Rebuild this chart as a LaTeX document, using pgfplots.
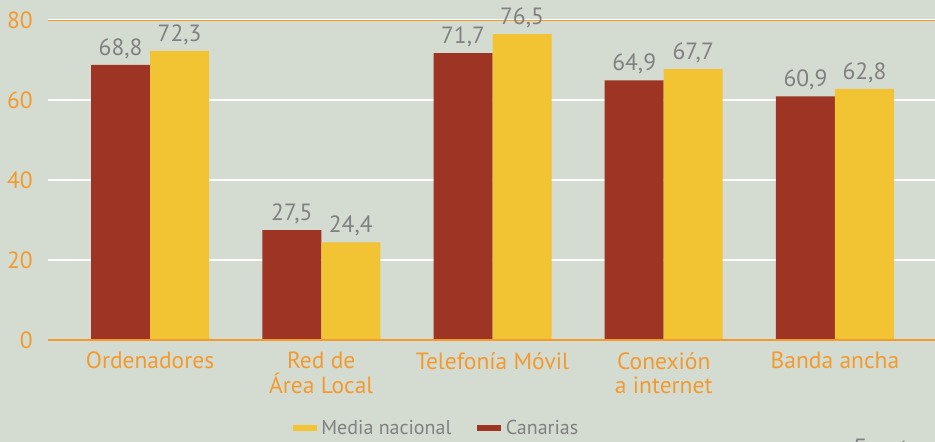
\documentclass[border=0pt]{standalone}
\usepackage{pgfplots}
\pgfplotsset{compat=1.18}
\usepackage{fontspec}
\setmainfont{PT Sans}
\definecolor{bg}{RGB}{212,220,210}
\definecolor{cr}{RGB}{158,52,36}
\definecolor{cy}{RGB}{242,195,51}
\definecolor{co}{RGB}{243,154,46}
\definecolor{cg}{RGB}{128,128,128}
\newcommand{\bigf}{\fontsize{23.5}{24.5}\selectfont}
\newcommand{\legf}{\fontsize{20}{21}\selectfont}
\begin{document}
\begin{tikzpicture}[x=1pt,y=1pt]
\clip (0,0) rectangle (935,442);
\fill[bg] (0,0) rectangle (935,442);
\node[anchor=north west, inner sep=0pt, text=cg, font=\itshape\bigf] at (852,3) {Fuente: INE};
\begin{axis}[
  at={(48pt,102pt)}, anchor=south west,
  scale only axis, width=889pt, height=320pt,
  ymin=0, ymax=80, xmin=-0.596, xmax=4.596,
  ybar=0pt, bar width=59pt,
  axis line style={draw=none},
  ytick={0,20,40,60,80},
  xtick={0,1,2,3,4},
  xticklabels={Ordenadores,{Red de\\Área Local},Telefonía Móvil,{Conexión\\a internet},Banda ancha},
  major tick length=0pt,
  ymajorgrids, grid style={white, line width=2pt},
  /pgf/number format/assume math mode=true,
  yticklabel style={text=co, font=\bigf, inner sep=0pt, xshift=-15pt},
  xticklabel style={text=co, font=\bigf, align=center, inner sep=0pt, yshift=-12pt},
  nodes near coords,
  nodes near coords style={text=cg, font=\bigf, inner sep=0pt, yshift=6pt,
    /pgf/number format/.cd, use comma, fixed, fixed zerofill, precision=1, assume math mode=true},
  legend style={draw=none, fill=none, at={(0.436,-0.275)}, anchor=center,
    legend columns=-1, font=\legf, text=cg, inner sep=0pt, nodes={inner sep=0pt},
    /tikz/every odd column/.append style={column sep=5pt},
    /tikz/every even column/.append style={column sep=26pt}},
]
\addlegendimage{legend image code/.code={\fill[cy] (0pt,-2.5pt) rectangle (23pt,2.5pt);}}
\addlegendimage{legend image code/.code={\fill[cr] (0pt,-2.5pt) rectangle (23pt,2.5pt);}}
\addplot[fill=cr, draw=none] coordinates {(0,68.8) (1,27.5) (2,71.7) (3,64.9) (4,60.9)};
\addplot[fill=cy, draw=none] coordinates {(0,72.3) (1,24.4) (2,76.5) (3,67.7) (4,62.8)};
\legend{Media nacional, Canarias}
\draw[co, line width=2pt] (rel axis cs:0,0) -- (rel axis cs:1,0);
\draw[co, line width=2pt] (rel axis cs:0,1) -- (rel axis cs:1,1);
\end{axis}
\end{tikzpicture}
\end{document}
